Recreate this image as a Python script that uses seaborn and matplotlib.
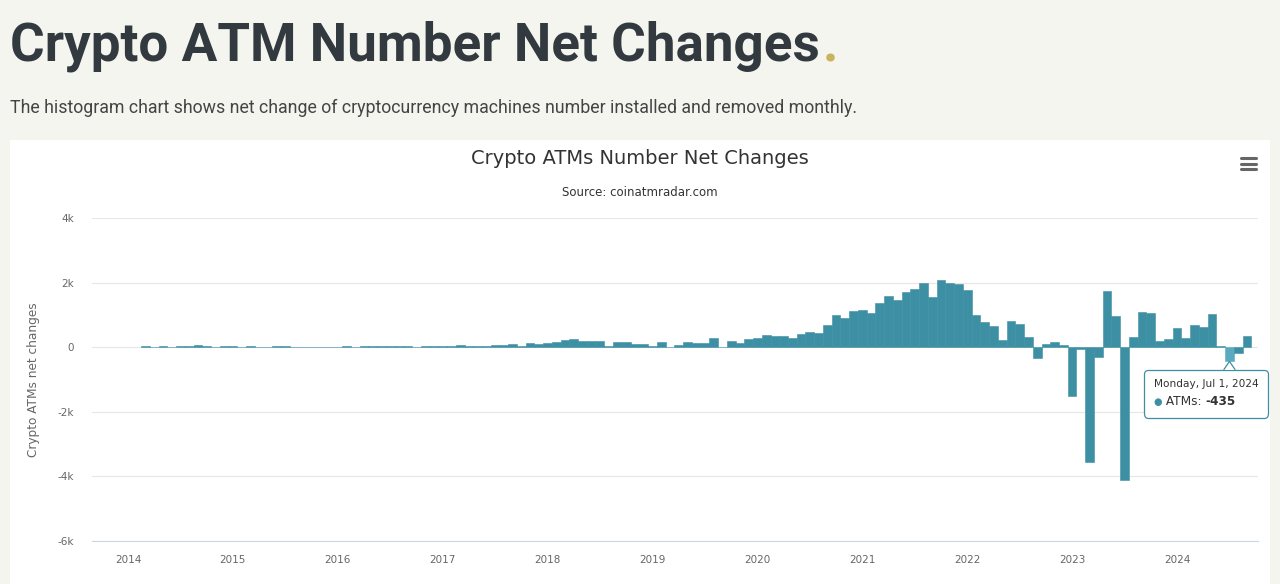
import matplotlib
matplotlib.use("Agg")
import matplotlib.pyplot as plt
import seaborn as sns
import pandas as pd
from matplotlib.patches import Rectangle, Polygon
from matplotlib.lines import Line2D
from matplotlib.transforms import offset_copy
from matplotlib.offsetbox import TextArea, HPacker, VPacker, AnnotationBbox

# monthly net change of crypto ATMs, Mar 2014 .. Sep 2024
values_2014 = [25, 20, 25, 20, 25, 30, 70, 25, 20, 25]          # Mar-Dec
values_2015 = [25, 0, 25, 20, 0, 25, 25, 20, 0, 0, 0, 20]
values_2016 = [20, 25, 20, 25, 25, 30, 30, 45, 45, 10, 30, 30]
values_2017 = [30, 40, 70, 40, 40, 40, 60, 60, 95, 50, 135, 110]
values_2018 = [115, 160, 215, 240, 200, 200, 200, 30, 150, 150, 100, 100]
values_2019 = [45, 150, 20, 65, 175, 145, 145, 275, 20, 205, 125, 240]
values_2020 = [300, 370, 350, 350, 270, 400, 475, 455, 700, 990, 890, 1130]
values_2021 = [1150, 1050, 1355, 1590, 1460, 1715, 1795, 1990, 1560, 2080, 1990, 1970]
values_2022 = [1765, 990, 775, 645, 235, 825, 725, 305, -330, 100, 150, 70]
values_2023 = [-1510, -60, -3550, -310, 1730, 980, -4100, 315, 1105, 1050, 180, 265]
values_2024 = [580, 285, 685, 630, 1030, 50, -435, -180, 335]   # Jan-Sep

year_ticks = list(range(2014, 2025))
y_ticks = [-6000, -4000, -2000, 0, 2000, 4000]
y_tick_labels = ["-6k", "-4k", "-2k", "0", "2k", "4k"]

net_changes = (values_2014 + values_2015 + values_2016 + values_2017 + values_2018
               + values_2019 + values_2020 + values_2021 + values_2022
               + values_2023 + values_2024)
months = pd.date_range("2014-03-01", "2024-09-01", freq="MS")
df = pd.DataFrame({"month": months, "atms": net_changes})
df["pos"] = df["month"].dt.year + (df["month"].dt.month - 1) / 12

teal = "#3d8fa4"
hover = "#5aabc0"
page_bg = "#f5f5f0"

sns.set_style("white")
plt.rcParams["font.family"] = ["DejaVu Sans"]

W, H = 1280, 584
fig = plt.figure(figsize=(W / 100, H / 100), dpi=100, facecolor=page_bg)

# white chart card
fig.add_artist(Rectangle((10 / W, 0), 1260 / W, (H - 140) / H, transform=fig.transFigure,
                         facecolor="white", edgecolor="none", zorder=-5))

# page heading
head = fig.text(10 / W, 1 - 61 / H, "Crypto ATM Number Net Changes", family="Roboto",
                fontweight="bold", fontsize=38.2, color="#323a40", va="baseline", ha="left")
fig.canvas.draw()
bb = head.get_window_extent()
fig.text((bb.x1 + 3) / W, 1 - 61 / H, ".", family="Roboto", fontweight="bold",
         fontsize=38.2, color="#c8b45c", va="baseline", ha="left")
fig.text(10 / W, 1 - 113 / H,
         "The histogram chart shows net change of cryptocurrency machines number installed and removed monthly.",
         family="Roboto", fontsize=12.8, color="#444444", va="baseline", ha="left")

# chart titles
fig.text(640 / W, 1 - 159 / H, "Crypto ATMs Number Net Changes", ha="center", va="center",
         fontsize=14, color="#333333")
fig.text(640 / W, 1 - 192 / H, "Source: coinatmradar.com", ha="center", va="center",
         fontsize=8.5, color="#333333")

# menu icon
for yy in (158, 163.5, 169):
    fig.add_artist(Line2D([1241 / W, 1256 / W], [1 - yy / H, 1 - yy / H], transform=fig.transFigure,
                          color="#666666", lw=2.2, solid_capstyle="round"))

ax = fig.add_axes([92 / W, 43 / H, 1166 / W, 323 / H])
ax.set_facecolor("white")

sns.barplot(data=df, x="pos", y="atms", native_scale=True, orient="x", width=1,
            color=teal, saturation=1, errorbar=None, edgecolor=teal, linewidth=0.4, ax=ax)

# hovered bar (Jul 2024)
jul_idx = df.index[df["month"] == pd.Timestamp("2024-07-01")][0]
ax.patches[jul_idx].set_facecolor(hover)
ax.patches[jul_idx].set_edgecolor(hover)

ax.set_xlim(2013.657, 2024.772)
ax.set_ylim(-6000, 4000)
ax.set_xticks(year_ticks)
ax.set_xticklabels([str(y) for y in year_ticks])
ax.set_yticks(y_ticks)
ax.set_yticklabels(y_tick_labels)
ax.yaxis.grid(True, color="#e6e6e6", lw=0.8)
ax.xaxis.grid(False)
ax.set_axisbelow(True)
for s in ("top", "right", "left"):
    ax.spines[s].set_visible(False)
ax.spines["bottom"].set_color("#ccd6eb")
ax.spines["bottom"].set_linewidth(0.8)
ax.tick_params(axis="y", length=0, pad=13, labelsize=7.5, labelcolor="#666666")
ax.tick_params(axis="x", length=7, width=0.8, color="#ccd6eb", pad=3, labelsize=7.5,
               labelcolor="#666666")
ax.set_xlabel("")
ax.set_ylabel("Crypto ATMs net changes", fontsize=8.7, color="#666666")
ax.yaxis.set_label_coords(-0.0446, 0.5)

# tooltip
tip_x, tip_y = df.loc[jul_idx, "pos"], df.loc[jul_idx, "atms"]
header = TextArea("Monday, Jul 1, 2024", textprops=dict(fontsize=7.6, color="#333333"))
dot = TextArea("\u25cf", textprops=dict(fontsize=7, color=teal))
lab = TextArea(" ATMs: ", textprops=dict(fontsize=8.7, color="#333333"))
val = TextArea("-435", textprops=dict(fontsize=8.7, color="#333333", fontweight="bold"))
row = HPacker(children=[dot, lab, val], align="baseline", pad=0, sep=0)
tip = VPacker(children=[header, row], align="left", pad=0, sep=4)
ab = AnnotationBbox(tip, (tip_x, tip_y), xybox=(-17, -13),
                    xycoords="data", boxcoords="offset points", box_alignment=(0.5, 1),
                    frameon=True,
                    bboxprops=dict(boxstyle="round,pad=0.7,rounding_size=0.3",
                                   facecolor="white", edgecolor=teal, lw=0.9))
ab.set_clip_on(False)
ab.set_zorder(5)
ax.add_artist(ab)

# small pointer on top of the tooltip
ptr_tr = offset_copy(ax.transData, fig=fig, x=0, y=0, units="points")
notch = Polygon([(tip_x - 0.055, -700), (tip_x, -440), (tip_x + 0.055, -700)], closed=False,
                facecolor="white", edgecolor=teal, lw=0.9, transform=ptr_tr,
                zorder=6, clip_on=False)
ax.add_patch(notch)

fig.savefig("out.png", dpi=100, facecolor=page_bg)
